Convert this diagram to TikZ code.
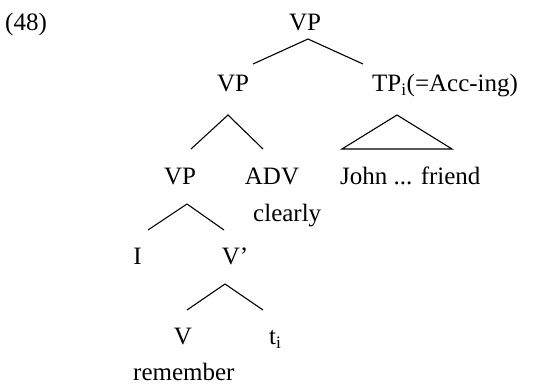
\documentclass[tikz,border=0pt]{standalone}
\usepackage{fontspec}
\setmainfont{Liberation Serif}
\tikzset{treenode/.style={inner sep=0pt, anchor=base, font=\fontsize{25}{30}\selectfont}}
\tikzset{branch/.style={line width=1.1pt}}

\begin{document}
\begin{tikzpicture}[x=1pt,y=-1pt]
\useasboundingbox (0,0) rectangle (552,387);

% nodes
\node [treenode, anchor=base west] (ex) at (5,31) {(48)};
\node [treenode] (vpa) at (305,31) {VP};
\node [treenode] (vpb) at (233,92) {VP};
\node [treenode, anchor=base west] (tp) at (372,92) {TP\textsubscript{i}(=Acc-ing)};
\node [treenode] (vpc) at (180,185) {VP};
\node [treenode] (adv) at (272,185) {ADV};
\node [treenode, anchor=base west] (john) at (340,185) {John ... friend};
\node [treenode, anchor=base west] (clearly) at (253,222) {clearly};
\node [treenode] (subj) at (137.5,265) {I};
\node [treenode] (vbar) at (235,265) {V’};
\node [treenode] (verb) at (183,345) {V};
\node [treenode, anchor=base west] (trace) at (269,345) {t\textsubscript{i}};
\node [treenode, anchor=base west] (remember) at (133,381) {remember};

% edges
\draw [branch] ([shift={(20,-28)}]vpb.base) -- ([shift={(3,8)}]vpa.base) -- ([shift={(-9,-28)}]tp.base west);
\draw [branch] ([shift={(11,-36)}]vpc.base) -- ([shift={(-5,23)}]vpb.base) -- ([shift={(-9,-36)}]adv.base);
\draw [branch] ([shift={(2,-36)}]john.base west) -- ([shift={(25,23)}]tp.base west) -- ([shift={(112,-36)}]john.base west) -- cycle;
\draw [branch] ([shift={(10.5,-35)}]subj.base) -- ([shift={(7,19)}]vpc.base) -- ([shift={(-11,-35)}]vbar.base);
\draw [branch] ([shift={(4,-35)}]verb.base) -- ([shift={(-10,19)}]vbar.base) -- ([shift={(-6,-35)}]trace.base west);
\end{tikzpicture}
\end{document}
